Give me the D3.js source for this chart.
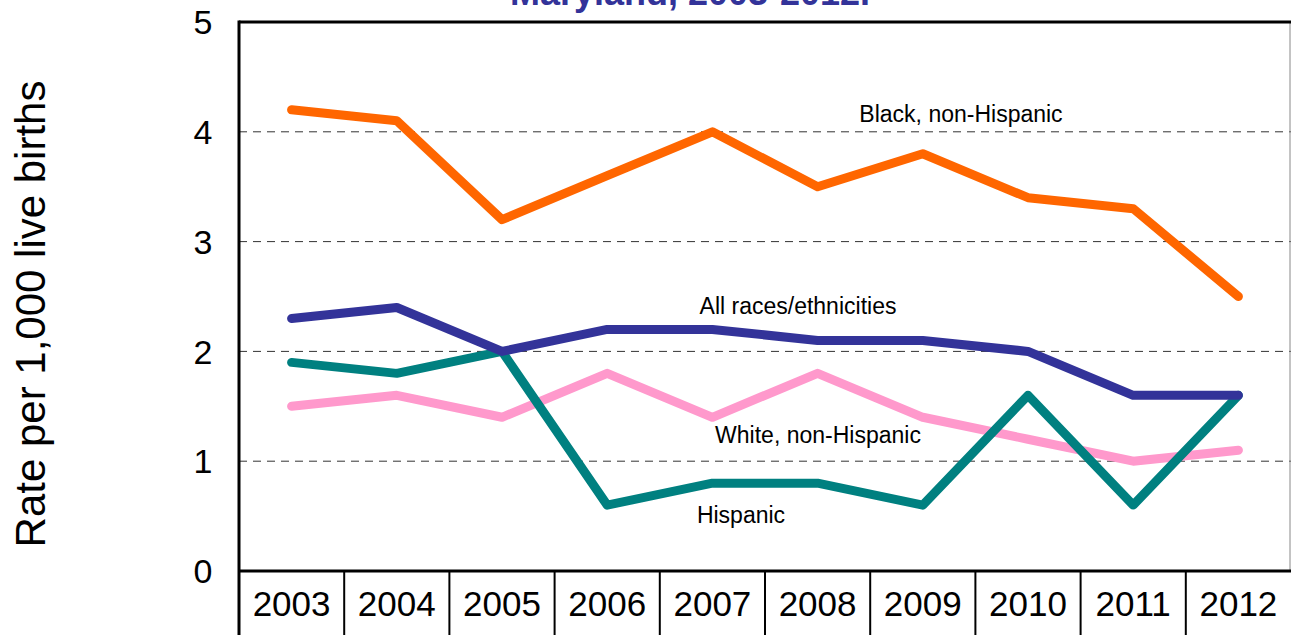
<!DOCTYPE html>
<html>
<head>
<meta charset="utf-8">
<script src="https://cdn.jsdelivr.net/npm/d3@7"></script>
<style>
  body { margin: 0; background: #fff; }
  svg { display: block; font-family: Arial, "Liberation Sans", sans-serif; }
</style>
</head>
<body>
<svg width="1291" height="635"></svg>
<script>
var years = ["2003", "2004", "2005", "2006", "2007", "2008", "2009", "2010", "2011", "2012"];
var black = [4.2, 4.1, 3.2, 3.6, 4.0, 3.5, 3.8, 3.4, 3.3, 2.5];
var allRaces = [2.3, 2.4, 2.0, 2.2, 2.2, 2.1, 2.1, 2.0, 1.6, 1.6];
var white = [1.5, 1.6, 1.4, 1.8, 1.4, 1.8, 1.4, 1.2, 1.0, 1.1];
var hispanic = [1.9, 1.8, 2.0, 0.6, 0.8, 0.8, 0.6, 1.6, 0.6, 1.6];
var yTicks = [0, 1, 2, 3, 4, 5];

var series = [
  {name: "White, non-Hispanic", values: white, color: "#ff99cc", lx: 818, ly: 435},
  {name: "Hispanic", values: hispanic, color: "#008080", lx: 741, ly: 515},
  {name: "All races/ethnicities", values: allRaces, color: "#333399", lx: 798, ly: 306},
  {name: "Black, non-Hispanic", values: black, color: "#ff6600", lx: 961, ly: 114}
];

var svg = d3.select("svg"),
  pLeft = 239, pRight = 1291, pTop = 22, pBottom = 571;

var x = d3.scaleBand().domain(years).range([pLeft, pRight]);
var y = d3.scaleLinear().domain([0, 5]).range([pBottom, pTop]);

// title (first line runs off the top)
svg.append("text")
  .attr("x", 690).attr("y", 5)
  .attr("text-anchor", "middle")
  .style("font-weight", "bold")
  .style("font-size", "36px")
  .style("fill", "#333399")
  .text("Maryland, 2003-2012.");

// gridlines
svg.append("g")
  .selectAll("line")
  .data(yTicks.filter(function(d) { return d > 0 && d < 5; }))
  .enter().append("line")
  .attr("x1", pLeft).attr("x2", pRight)
  .attr("y1", function(d) { return y(d); })
  .attr("y2", function(d) { return y(d); })
  .attr("stroke", "#333")
  .attr("stroke-width", 1)
  .attr("stroke-dasharray", "8,6");

// frame
svg.append("line").attr("x1", pRight - 1).attr("x2", pRight - 1).attr("y1", pTop).attr("y2", pBottom)
  .attr("stroke", "#888").attr("stroke-width", 1);
svg.append("line").attr("x1", pLeft).attr("x2", pRight).attr("y1", pTop).attr("y2", pTop)
  .attr("stroke", "#000").attr("stroke-width", 3);
svg.append("line").attr("x1", pLeft).attr("x2", pLeft).attr("y1", pTop - 1.5).attr("y2", 635)
  .attr("stroke", "#000").attr("stroke-width", 3);
svg.append("line").attr("x1", pLeft).attr("x2", pRight).attr("y1", pBottom).attr("y2", pBottom)
  .attr("stroke", "#000").attr("stroke-width", 3);

// y tick labels
svg.append("g")
  .selectAll("text")
  .data(yTicks)
  .enter().append("text")
  .attr("x", 203)
  .attr("y", function(d) { return y(d); })
  .attr("dy", "0.36em")
  .attr("text-anchor", "middle")
  .style("font-size", "34px")
  .text(function(d) { return d; });

// y axis title
svg.append("text")
  .attr("transform", "translate(45," + 314 + ") rotate(-90)")
  .attr("text-anchor", "middle")
  .style("font-size", "42px")
  .text("Rate per 1,000 live births");

// category table dividers
svg.append("g")
  .selectAll("line")
  .data(years.slice(1))
  .enter().append("line")
  .attr("x1", function(d) { return x(d); })
  .attr("x2", function(d) { return x(d); })
  .attr("y1", pBottom).attr("y2", 635)
  .attr("stroke", "#000").attr("stroke-width", 2);

svg.append("g")
  .selectAll("text")
  .data(years)
  .enter().append("text")
  .attr("x", function(d) { return x(d) + x.bandwidth() / 2; })
  .attr("y", 603)
  .attr("dy", "0.36em")
  .attr("text-anchor", "middle")
  .style("font-size", "35px")
  .text(function(d) { return d; });

// lines
var line = d3.line()
  .x(function(d, i) { return x(years[i]) + x.bandwidth() / 2; })
  .y(function(d) { return y(d); });

svg.append("g")
  .selectAll("path")
  .data(series)
  .enter().append("path")
  .attr("d", function(d) { return line(d.values); })
  .attr("fill", "none")
  .attr("stroke", function(d) { return d.color; })
  .attr("stroke-width", 9)
  .attr("stroke-linejoin", "round")
  .attr("stroke-linecap", "round");

svg.append("g")
  .selectAll("text")
  .data(series)
  .enter().append("text")
  .attr("x", function(d) { return d.lx; })
  .attr("y", function(d) { return d.ly; })
  .attr("dy", "0.36em")
  .attr("text-anchor", "middle")
  .style("font-size", "23px")
  .text(function(d) { return d.name; });
</script>
</body>
</html>
